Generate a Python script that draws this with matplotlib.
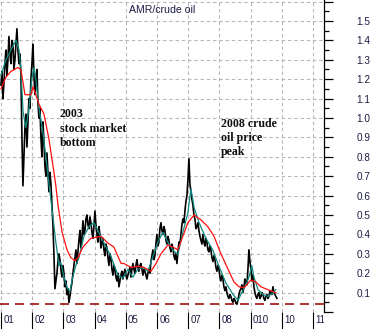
import numpy as np
import matplotlib
matplotlib.use("Agg")
import matplotlib.pyplot as plt
from matplotlib.transforms import ScaledTranslation, Bbox, TransformedBbox

plt.rcParams['lines.scale_dashes'] = False

# ---------------- data ----------------
title = "AMR/crude oil"
year_ticks = [2001, 2002, 2003, 2004, 2005, 2006, 2007, 2008, 2009, 2010, 2011]
year_labels = ["01", "02", "03", "04", "05", "06", "07", "08", "010", "10", "11"]

# AMR / crude oil ratio (black), sampled about every 12 days from 2001.0
ratio_start = 2001.0
ratio_step = 0.03205
ratio = [1.17, 1.24, 1.10, 1.18, 1.28, 1.35, 1.22, 1.30, 1.42, 1.33,
         1.28, 1.40, 1.38, 1.25, 1.30, 1.38, 1.46, 1.35, 1.28, 1.33,
         1.22, 0.90, 0.65, 0.80, 0.95, 1.02, 0.85, 0.98, 1.10, 1.05,
         1.20, 1.28, 1.38, 1.22, 1.12, 1.20, 1.25, 1.08, 1.00, 1.05,
         0.90, 0.80, 0.98, 0.88, 0.75, 0.70, 0.82, 0.72, 0.62, 0.72,
         0.66, 0.55, 0.45, 0.30, 0.12, 0.16, 0.20, 0.26, 0.30, 0.27,
         0.22, 0.18, 0.24, 0.20, 0.13, 0.16, 0.09, 0.12, 0.05, 0.08,
         0.12, 0.15, 0.20, 0.24, 0.28, 0.32, 0.25, 0.31, 0.37, 0.42,
         0.33, 0.38, 0.47, 0.40, 0.42, 0.48, 0.50, 0.45, 0.43, 0.49,
         0.46, 0.41, 0.38, 0.44, 0.52, 0.45, 0.40, 0.36, 0.44, 0.40,
         0.33, 0.36, 0.38, 0.32, 0.29, 0.35, 0.33, 0.28, 0.24, 0.30,
         0.28, 0.22, 0.19, 0.24, 0.22, 0.18, 0.16, 0.20, 0.13, 0.16,
         0.19, 0.21, 0.17, 0.20, 0.22, 0.19, 0.17, 0.19, 0.21, 0.23,
         0.18, 0.22, 0.25, 0.22, 0.20, 0.24, 0.27, 0.23, 0.21, 0.24,
         0.25, 0.22, 0.19, 0.22, 0.21, 0.19, 0.17, 0.20, 0.22, 0.20,
         0.26, 0.29, 0.32, 0.27, 0.29, 0.35, 0.40, 0.34, 0.36, 0.43,
         0.46, 0.42, 0.40, 0.44, 0.42, 0.37, 0.35, 0.39, 0.37, 0.33,
         0.31, 0.35, 0.33, 0.29, 0.27, 0.30, 0.25, 0.31, 0.36, 0.35,
         0.40, 0.45, 0.48, 0.46, 0.52, 0.57, 0.60, 0.68, 0.79, 0.66,
         0.62, 0.58, 0.55, 0.50, 0.48, 0.43, 0.44, 0.46, 0.42, 0.39,
         0.37, 0.35, 0.40, 0.36, 0.34, 0.38, 0.36, 0.32, 0.31, 0.34,
         0.32, 0.28, 0.26, 0.29, 0.27, 0.23, 0.21, 0.24, 0.22, 0.18,
         0.16, 0.19, 0.17, 0.13, 0.11, 0.13, 0.10, 0.08, 0.07, 0.09,
         0.08, 0.06, 0.05, 0.07, 0.06, 0.045, 0.04, 0.06, 0.09, 0.11,
         0.12, 0.14, 0.10, 0.13, 0.17, 0.15, 0.14, 0.22, 0.32, 0.26,
         0.22, 0.16, 0.19, 0.13, 0.10, 0.08, 0.07, 0.09, 0.10, 0.07,
         0.08, 0.10, 0.09, 0.07, 0.06, 0.08, 0.09, 0.07, 0.08, 0.11,
         0.10, 0.09, 0.13, 0.10, 0.09, 0.08, 0.07]

# short moving average (teal)
teal_years = [2001.00, 2001.16, 2001.32, 2001.48, 2001.58, 2001.64, 2001.71, 2001.80,
              2001.90, 2001.99, 2002.06, 2002.12, 2002.22, 2002.35, 2002.44, 2002.54,
              2002.63, 2002.76, 2002.86, 2002.92, 2003.02, 2003.12, 2003.21, 2003.28,
              2003.40, 2003.50, 2003.66, 2003.82, 2003.98, 2004.14, 2004.30, 2004.53,
              2004.75, 2004.91, 2005.07, 2005.23, 2005.39, 2005.55, 2005.71, 2005.87,
              2006.03, 2006.19, 2006.35, 2006.51, 2006.67, 2006.83, 2006.99, 2007.09,
              2007.19, 2007.35, 2007.57, 2007.79, 2007.99, 2008.21, 2008.44, 2008.60,
              2008.69, 2008.85, 2008.95, 2009.04, 2009.11, 2009.24, 2009.40, 2009.56,
              2009.72, 2009.81]
teal_vals = [1.22, 1.30, 1.35, 1.40, 1.35, 1.25, 1.03, 0.95,
             1.05, 1.20, 1.26, 1.20, 1.05, 0.92, 0.80, 0.66,
             0.54, 0.36, 0.24, 0.255, 0.18, 0.125, 0.105, 0.165,
             0.24, 0.28, 0.39, 0.44, 0.46, 0.41, 0.355, 0.285,
             0.19, 0.175, 0.22, 0.18, 0.22, 0.23, 0.21, 0.285,
             0.36, 0.41, 0.36, 0.32, 0.295, 0.41, 0.51, 0.635,
             0.54, 0.46, 0.38, 0.32, 0.235, 0.15, 0.09, 0.06,
             0.09, 0.14, 0.18, 0.24, 0.18, 0.115, 0.09, 0.08,
             0.10, 0.115]

# long moving average (red)
red_years = [2001.00, 2001.16, 2001.32, 2001.54, 2001.64, 2001.77, 2001.87, 2001.96,
             2002.03, 2002.12, 2002.22, 2002.38, 2002.54, 2002.70, 2002.76, 2002.83,
             2002.96, 2003.12, 2003.24, 2003.37, 2003.47, 2003.63, 2003.88, 2004.21,
             2004.43, 2004.62, 2004.85, 2004.94, 2005.17, 2005.39, 2005.58, 2005.81,
             2005.97, 2006.13, 2006.35, 2006.51, 2006.67, 2006.83, 2006.99, 2007.19,
             2007.41, 2007.63, 2007.83, 2008.05, 2008.28, 2008.47, 2008.63, 2008.79,
             2009.01, 2009.17, 2009.33, 2009.56, 2009.72, 2009.81]
red_vals = [1.15, 1.21, 1.24, 1.26, 1.25, 1.12, 1.12, 1.12,
            1.16, 1.12, 1.07, 1.02, 0.89, 0.72, 0.65, 0.55,
            0.41, 0.32, 0.28, 0.265, 0.28, 0.335, 0.38, 0.39,
            0.355, 0.335, 0.25, 0.25, 0.23, 0.235, 0.23, 0.21,
            0.25, 0.30, 0.345, 0.335, 0.32, 0.39, 0.46, 0.50,
            0.475, 0.44, 0.39, 0.30, 0.22, 0.155, 0.13, 0.125,
            0.165, 0.155, 0.13, 0.115, 0.105, 0.10]

support_level = 0.04

notes = [(2002.89, 1.05, "2003\nstock market\nbottom"),
         (2008.05, 1.00, "2008 crude\noil price\npeak")]

# ---------------- figure ----------------
W, H = 371, 329
fig = plt.figure(figsize=(W / 100, H / 100), dpi=100)
ax = fig.add_axes([0, 17 / H, 324 / W, 312 / H])

ratio_years = ratio_start + ratio_step * np.arange(len(ratio))

ax.plot(ratio_years, ratio, color='black', lw=1.2, zorder=3)
ax.plot(teal_years, teal_vals, color='#108a80', lw=0.9, zorder=4)
ax.plot(red_years, red_vals, color='#ff1010', lw=0.9, zorder=5)
ax.axhline(support_level, color='#a01010', lw=1.2, dashes=(6.5, 4.3), zorder=6)

ax.set_xlim(2000.97, 2000.97 + 324 / 31.2)
ax.set_ylim(0.0, 1.608)

# grid
ax.set_axisbelow(True)
ax.grid(True, which='major', color='#b8b8b8', lw=0.8, dashes=(2.5, 2.0))

# spines
for s in ['left', 'top', 'bottom']:
    ax.spines[s].set_visible(False)
ax.spines['right'].set_linewidth(0.9)

label_color = '#1c1c44'
# x axis ticks
ax.set_xticks(year_ticks)
ax.set_xticklabels(year_labels)
ax.tick_params(axis='x', direction='out', length=12.2, width=0.8, pad=-9.8,
               labelsize=7, labelcolor=label_color, color='black')
clipbox = TransformedBbox(Bbox([[0, 0], [324 / W, 1]]), fig.transFigure)
for lbl in ax.get_xticklabels():
    lbl.set_horizontalalignment('left')
    lbl.set_verticalalignment('top')
    lbl.set_fontfamily('Liberation Sans')
    lbl.set_transform(lbl.get_transform() + ScaledTranslation(1.6 / 72, 0, fig.dpi_scale_trans))
    lbl.set_clip_on(True)
    lbl.set_clip_box(clipbox)

# y axis on right
ax.yaxis.tick_right()
yt = np.round(np.arange(0, 1.61, 0.1), 1)
ax.set_yticks(yt)
ax.set_yticklabels(['' if (v < 0.05 or v > 1.55) else f"{v:.1f}" for v in yt])
ax.set_yticks(np.round(np.arange(0.05, 1.6, 0.1), 2), minor=True)
ax.tick_params(axis='y', which='major', direction='out', length=6.5, width=0.9,
               pad=16.8, labelsize=7.2, labelcolor=label_color)
ax.tick_params(axis='y', which='minor', direction='out', length=3.4, width=0.9)
for lbl in ax.get_yticklabels():
    lbl.set_fontfamily('Liberation Sans')

# title
ax.text(0.5, 0.967, title, transform=ax.transAxes, ha='center', va='center',
        fontsize=7.6, family='Liberation Sans', color=label_color)

for x, y, t in notes:
    ax.text(x, y, t, ha='left', va='top', fontsize=8.6, fontweight='bold',
            family='Liberation Serif', color='#101010', linespacing=1.25, zorder=7)

fig.savefig('out.png', dpi=100)
